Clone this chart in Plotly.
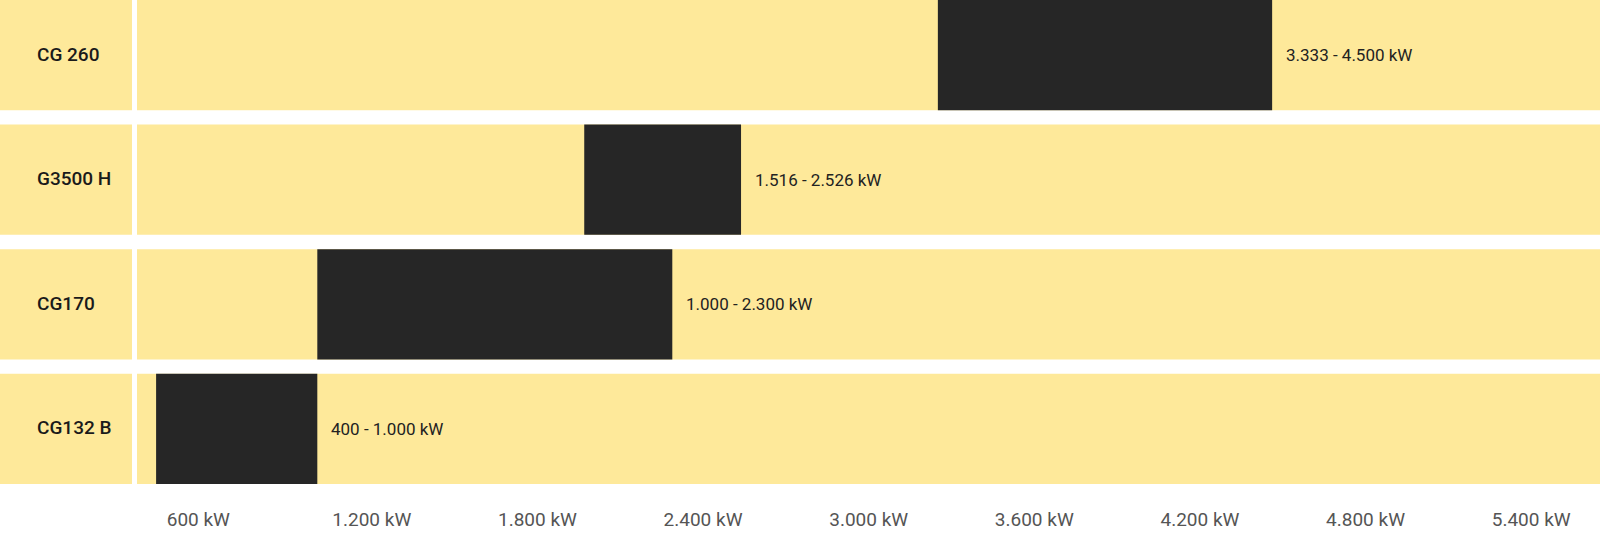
import plotly.graph_objects as go

# ---- data ----
categories = ["CG132 B", "CG170", "G3500 H", "CG 260"]          # bottom -> top
range_start = [558, 1142, 2109, 3390]                              # kW, bar start on axis
range_end = [1142, 2428, 2677, 4601]                               # kW, bar end on axis
range_labels = ["400 - 1.000 kW", "1.000 - 2.300 kW", "1.516 - 2.526 kW", "3.333 - 4.500 kW"]
tick_values = [600, 1200, 1800, 2400, 3000, 3600, 4200, 4800, 5400]


def de_fmt(v):
    return f"{v:,}".replace(",", ".") + " kW"


YELLOW = "#FEE99A"
DARK = "#262626"
BAR_W = 0.885
PLOT_L = 137
PLOT_W = 1600 - PLOT_L

fig = go.Figure()
fig.add_trace(go.Bar(
    y=categories,
    x=[e - s for s, e in zip(range_start, range_end)],
    base=range_start,
    orientation="h",
    width=BAR_W,
    marker=dict(color=DARK, line=dict(width=0)),
    hoverinfo="skip",
    showlegend=False,
))

shapes = []
annotations = []
for i, cat in enumerate(categories):
    # plot-area band
    shapes.append(dict(type="rect", xref="paper", yref="y", x0=0, x1=1,
                       y0=i - BAR_W / 2, y1=i + BAR_W / 2,
                       fillcolor=YELLOW, line=dict(width=0), layer="below"))
    # label column band
    shapes.append(dict(type="rect", xref="paper", yref="y",
                       x0=-PLOT_L / PLOT_W, x1=-5 / PLOT_W,
                       y0=i - BAR_W / 2, y1=i + BAR_W / 2,
                       fillcolor=YELLOW, line=dict(width=0), layer="below"))
    annotations.append(dict(xref="paper", yref="y", x=(35 - PLOT_L) / PLOT_W, y=cat,
                            text=cat, showarrow=False, xanchor="left", yanchor="middle",
                            yshift=1,
                            font=dict(family="Roboto", size=19, color="#1a1a1a", weight=500)))
    annotations.append(dict(xref="x", yref="y", x=range_end[i], y=cat,
                            text=range_labels[i], showarrow=False, xanchor="left",
                            yanchor="middle", xshift=12,
                            font=dict(family="Roboto", size=17, color="#222222")))

fig.update_layout(
    width=1600, height=537,
    margin=dict(l=PLOT_L, r=0, t=0, b=53, pad=0),
    paper_bgcolor="white", plot_bgcolor="white",
    shapes=shapes, annotations=annotations,
    showlegend=False,
    xaxis=dict(range=[488.8, 5788.7], tickvals=tick_values,
               ticktext=[de_fmt(v) for v in tick_values],
               ticklabelposition="outside right", ticklabelshift=-1,
               ticklabelstandoff=22,
               showgrid=False, zeroline=False, showline=False,
               ticks="",
               tickfont=dict(family="Roboto", size=19, color="#555555"),
               fixedrange=True),
    yaxis=dict(type="category", categoryorder="array", categoryarray=categories,
               range=[-0.4422, 3.4422], showticklabels=False, showgrid=False,
               zeroline=False, showline=False, fixedrange=True),
)

fig.write_html("out.html")
